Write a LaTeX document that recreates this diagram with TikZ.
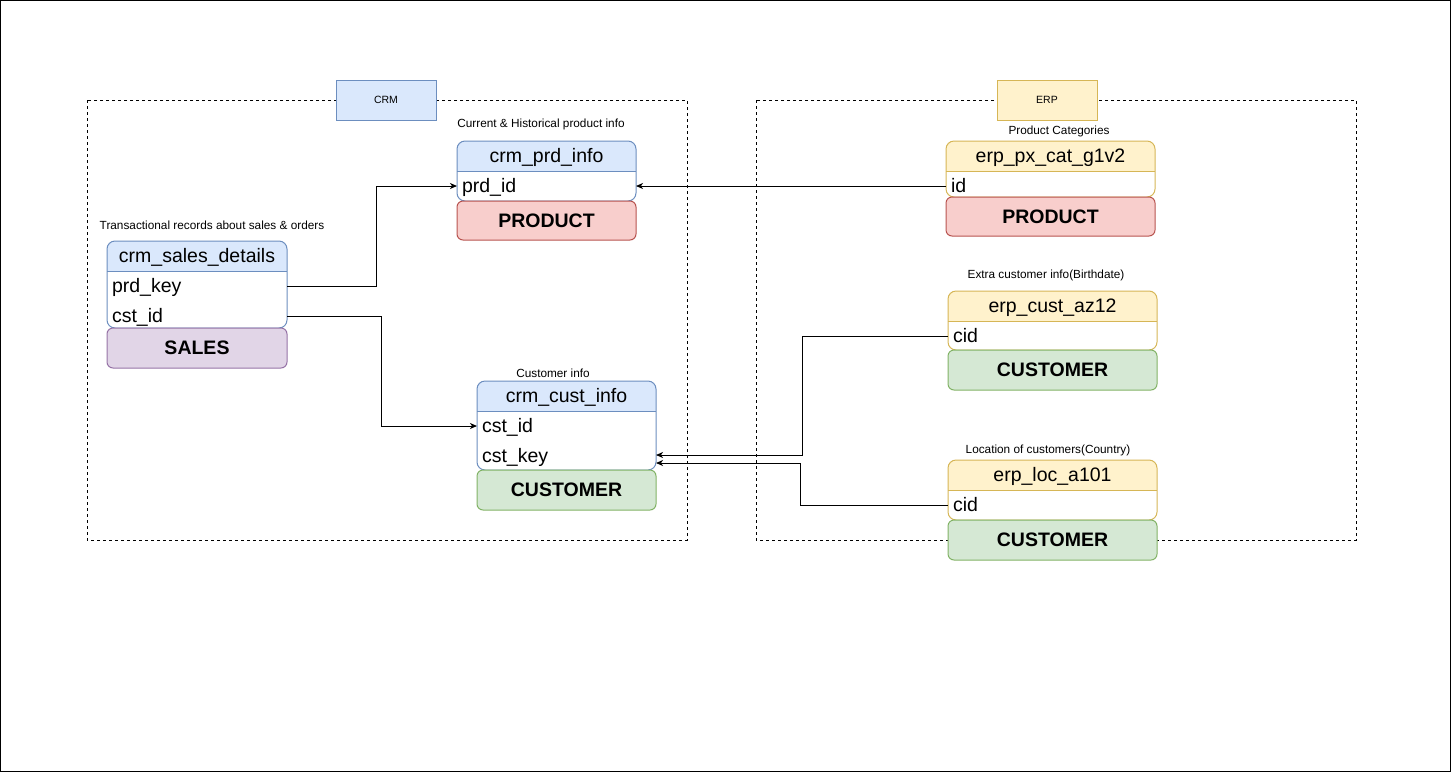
\documentclass[tikz,border=0pt]{standalone}
\usepackage{fontspec}
\setmainfont{Liberation Sans}
\usetikzlibrary{arrows.meta}
\definecolor{bluefill}{HTML}{DAE8FC}
\definecolor{blueline}{HTML}{6C8EBF}
\definecolor{yelfill}{HTML}{FFF2CC}
\definecolor{yelline}{HTML}{D6B656}
\definecolor{redfill}{HTML}{F8CECC}
\definecolor{redline}{HTML}{B85450}
\definecolor{grnfill}{HTML}{D5E8D4}
\definecolor{grnline}{HTML}{82B366}
\definecolor{purfill}{HTML}{E1D5E7}
\definecolor{purline}{HTML}{9673A6}
\tikzset{
  frame/.style={draw=black, line width=1pt},
  grp/.style={draw=black, line width=1pt, dash pattern=on 3pt off 3pt},
  tag/.style={draw, line width=1pt, minimum width=100pt, minimum height=40pt, inner sep=0pt, font=\fontsize{10.5}{12}\selectfont},
  ttl/.style={inner sep=0pt, font=\fontsize{11.8}{13}\selectfont},
  hdr/.style={inner sep=0pt, yshift=-1.5pt, font=\fontsize{19.5}{22}\selectfont},
  fld/.style={inner xsep=5pt, inner ysep=0pt, outer sep=0pt, anchor=west, font=\fontsize{19.5}{22}\selectfont, text height=17pt, text depth=4pt},
  cat/.style={draw, line width=1pt, rounded corners=6pt, anchor=north west, inner sep=0pt, outer sep=0pt, font=\bfseries\fontsize{19.5}{22}\selectfont},
  conn/.style={draw=black, line width=1pt, -{Stealth[length=7pt,width=6pt,inset=2pt]}},
}
% #1 x1, #2 ytop, #3 x2, #4 ysep, #5 ybot, #6 colour prefix
\newcommand\erdtable[6]{%
  \begin{scope}
    \clip[rounded corners=8pt] (#1,#2) rectangle (#3,#5);
    \fill[white] (#1,#2) rectangle (#3,#5);
    \fill[#6fill] (#1,#2) rectangle (#3,#4);
  \end{scope}
  \draw[#6line, line width=1pt] (#1,#4) -- (#3,#4);
  \draw[#6line, line width=1pt, rounded corners=8pt] (#1,#2) rectangle (#3,#5);
}
\begin{document}
\begin{tikzpicture}[x=1pt,y=-1pt]
\useasboundingbox (0,0) rectangle (1451,772);
\draw[frame] (0.5,0.5) rectangle (1450.5,771.5);

% groups
\draw[grp] (87,100) rectangle (687,540);
\draw[grp] (756,100) rectangle (1356,540);
\node[tag, fill=bluefill, draw=blueline] (crmtag) at (386,100) {CRM};
\node[tag, fill=yelfill, draw=yelline] (erptag) at (1047,100) {ERP};

% titles
\node[ttl] (t1) at (541,124) {Current \& Historical product info};
\node[ttl] (t2) at (212,225) {Transactional records about sales \& orders};
\node[ttl] (t3) at (553,373) {Customer info};
\node[ttl] (t4) at (1059,131) {Product Categories};
\node[ttl] (t5) at (1046,275) {Extra customer info(Birthdate)};
\node[ttl] (t6) at (1048,450) {Location of customers(Country)};

% crm_prd_info
\erdtable{457}{141}{636}{171}{201}{blue}
\node[hdr] (prdhdr) at (546.5,156) {crm\_prd\_info};
\node[fld, text width=169pt] (prdid) at (457,186) {prd\_id};
\node[cat, fill=redfill, draw=redline, minimum width=179pt, minimum height=39pt] (prdcat) at (457,201) {PRODUCT};

% crm_sales_details
\erdtable{107}{241}{287}{271}{328}{blue}
\node[hdr] (salhdr) at (197,256) {crm\_sales\_details};
\node[fld, text width=170pt] (prdkey) at (107,286) {prd\_key};
\node[fld, text width=170pt] (cstid) at (107,316) {cst\_id};
\node[cat, fill=purfill, draw=purline, minimum width=180pt, minimum height=40pt] (salcat) at (107,328) {SALES};

% crm_cust_info
\erdtable{477}{381}{656}{411}{470}{blue}
\node[hdr] (custhdr) at (566.5,396) {crm\_cust\_info};
\node[fld, text width=169pt] (cstidb) at (477,426) {cst\_id};
\node[fld, text width=169pt] (cstkey) at (477,456) {cst\_key};
\node[cat, fill=grnfill, draw=grnline, minimum width=179pt, minimum height=40pt] (custcat) at (477,470) {CUSTOMER};

% erp_px_cat_g1v2
\erdtable{946}{141}{1155}{171}{197}{yel}
\node[hdr] (pxhdr) at (1050.5,156) {erp\_px\_cat\_g1v2};
\node[fld, text width=199pt] (erpid) at (946,186) {id};
\node[cat, fill=redfill, draw=redline, minimum width=209pt, minimum height=39pt] (pxcat) at (946,197) {PRODUCT};

% erp_cust_az12
\erdtable{948}{291}{1157}{321}{350}{yel}
\node[hdr] (azhdr) at (1052.5,306) {erp\_cust\_az12};
\node[fld, text width=199pt] (azcid) at (948,336) {cid};
\node[cat, fill=grnfill, draw=grnline, minimum width=209pt, minimum height=40pt] (azcat) at (948,350) {CUSTOMER};

% erp_loc_a101
\erdtable{948}{460}{1157}{490}{520}{yel}
\node[hdr] (lochdr) at (1052.5,475) {erp\_loc\_a101};
\node[fld, text width=199pt] (loccid) at (948,505) {cid};
\node[cat, fill=grnfill, draw=grnline, minimum width=209pt, minimum height=40pt] (loccat) at (948,520) {CUSTOMER};

% connectors
\draw[conn] (prdkey.east) -- ++(89,0) |- (prdid.west);
\draw[conn] (cstid.east) -- ++(94,0) |- (cstidb.west);
\draw[conn] (erpid.west) -- (prdid.east);
\draw[conn] (azcid.west) -- ++(-146,0) |- ([yshift=1pt]cstkey.east);
\draw[conn] (loccid.west) -- ++(-148,0) |- ([yshift=-7pt]cstkey.east);
\end{tikzpicture}
\end{document}
